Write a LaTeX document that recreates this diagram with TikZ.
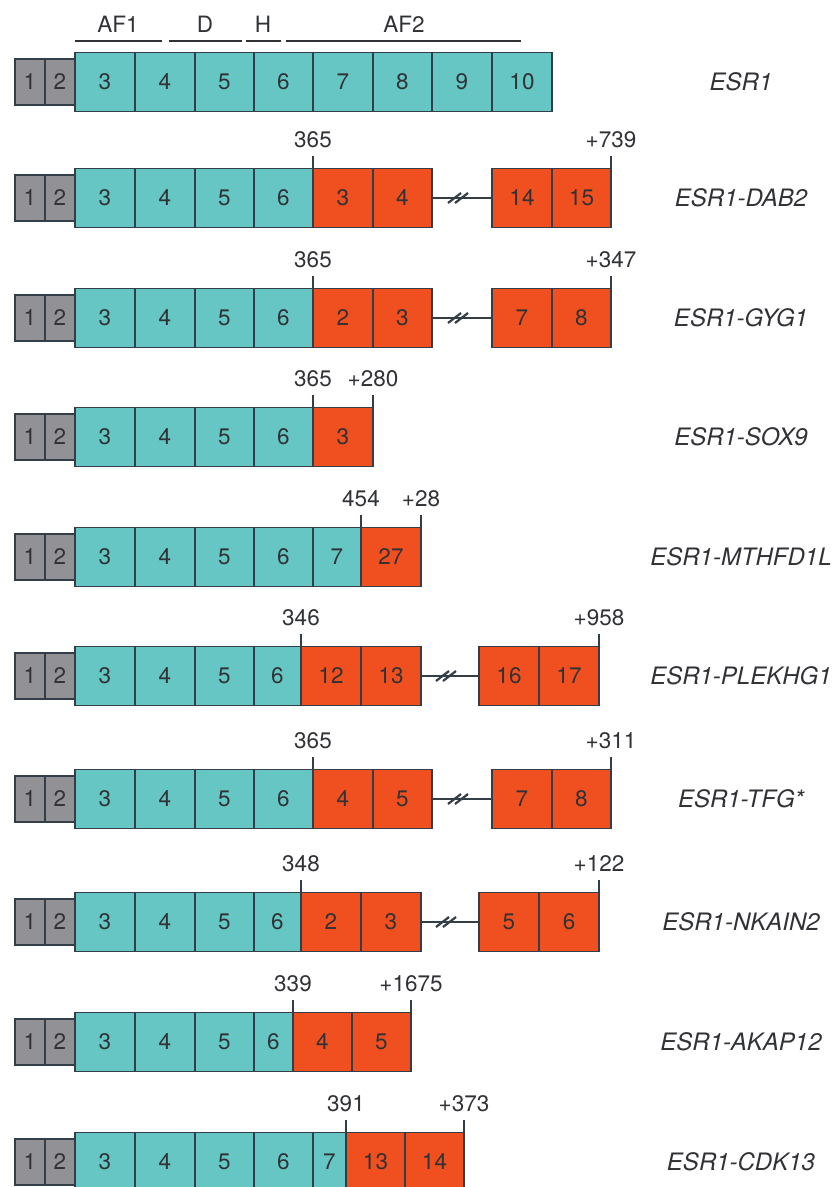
\documentclass[tikz,border=0pt]{standalone}
\usepackage{fontspec}
\setmainfont{TeX Gyre Heros}
\usetikzlibrary{calc}
\definecolor{tealf}{RGB}{102,198,196}
\definecolor{orgf}{RGB}{240,80,32}
\definecolor{grayf}{RGB}{146,146,150}
\definecolor{edge}{RGB}{52,62,72}
\definecolor{txt}{RGB}{48,50,54}
\tikzset{
  exon/.style={draw=edge, line width=1.8pt, inner sep=0pt, outer sep=0pt,
    minimum height=59pt, text=txt, anchor=center,
    font=\fontsize{22.5}{22.5}\selectfont},
  tealbox/.style={exon, fill=tealf},
  orgbox/.style={exon, fill=orgf},
  graybox/.style={exon, fill=grayf, minimum height=46pt},
  lbl/.style={text=txt, inner sep=0pt, font=\fontsize{22.5}{22.5}\selectfont},
  gene/.style={text=txt, inner sep=0pt, font=\fontsize{24}{24}\selectfont\itshape},
  conn/.style={draw=edge, line width=1.8pt},
  slash/.style={draw=edge, line width=2.2pt},
  tickline/.style={draw=edge, line width=1.8pt},
  hdr/.style={draw=txt, line width=1.8pt}
}
\newcommand\mkbox[6]{\node[#5, minimum width={(#3-#2)*1pt}] (#1) at ({(#2+#3)/2},#4) {#6};}
\newcommand\mkgray[2]{\mkbox{#1ga}{15}{45}{#2}{graybox}{1}\mkbox{#1gb}{45}{75}{#2}{graybox}{2}}
\newcommand\mkteal[2]{%
  \mkbox{#1t3}{75}{135}{#2}{tealbox}{3}%
  \mkbox{#1t4}{135}{195}{#2}{tealbox}{4}%
  \mkbox{#1t5}{195}{254}{#2}{tealbox}{5}}
\newcommand\mktick[3]{\draw[tickline] (#1) -- ++(0,-12.5) coordinate (#2t);
  \node[lbl] (#2) at ($(#2t)+(0,-16)$) {#3};}
\newcommand\mkbreak[3]{\draw[conn] (#1.east) -- coordinate[midway] (#3) (#2.west);
  \draw[slash] ($(#3)+(-14,5)$) -- ($(#3)+(-1,-5)$);
  \draw[slash] ($(#3)+(-7,5)$) -- ($(#3)+(6,-5)$);}
\begin{document}
\begin{tikzpicture}[x=1pt,y=-1pt]
\useasboundingbox[fill=white] (0,0) rectangle (835,1187);
% header
\node[lbl] (hAF1) at (118,24) {AF1};
\node[lbl] (hD) at (205,24) {D};
\node[lbl] (hH) at (263,24) {H};
\node[lbl] (hAF2) at (404,24) {AF2};
\draw[hdr] (75,41) -- (162,41);
\draw[hdr] (169,41) -- (242,41);
\draw[hdr] (246,41) -- (281,41);
\draw[hdr] (286,41) -- (521,41);
% row 1 ESR1
\mkgray{a}{82}
\mkteal{a}{82}
\mkbox{at6}{254}{313}{82}{tealbox}{6}
\mkbox{at7}{313}{373}{82}{tealbox}{7}
\mkbox{at8}{373}{432}{82}{tealbox}{8}
\mkbox{at9}{432}{492}{82}{tealbox}{9}
\mkbox{at10}{492}{552}{82}{tealbox}{10}
\node[gene] (ga) at (741,82) {ESR1};
% row 2 DAB2
\mkgray{b}{198}
\mkteal{b}{198}
\mkbox{bt6}{254}{313}{198}{tealbox}{6}
\mkbox{bo1}{313}{373}{198}{orgbox}{3}
\mkbox{bo2}{373}{432}{198}{orgbox}{4}
\mkbox{bo3}{492}{552}{198}{orgbox}{14}
\mkbox{bo4}{552}{611}{198}{orgbox}{15}
\mkbreak{bo2}{bo3}{bm}
\mktick{bo1.north west}{bl1}{365}
\mktick{bo4.north east}{bl2}{+739}
\node[gene] (gb) at (741,198) {ESR1-DAB2};
% row 3 GYG1
\mkgray{c}{318}
\mkteal{c}{318}
\mkbox{ct6}{254}{313}{318}{tealbox}{6}
\mkbox{co1}{313}{373}{318}{orgbox}{2}
\mkbox{co2}{373}{432}{318}{orgbox}{3}
\mkbox{co3}{492}{552}{318}{orgbox}{7}
\mkbox{co4}{552}{611}{318}{orgbox}{8}
\mkbreak{co2}{co3}{cm}
\mktick{co1.north west}{cl1}{365}
\mktick{co4.north east}{cl2}{+347}
\node[gene] (gc) at (741,318) {ESR1-GYG1};
% row 4 SOX9
\mkgray{d}{437}
\mkteal{d}{437}
\mkbox{dt6}{254}{313}{437}{tealbox}{6}
\mkbox{do1}{313}{373}{437}{orgbox}{3}
\mktick{do1.north west}{dl1}{365}
\mktick{do1.north east}{dl2}{+280}
\node[gene] (gd) at (741,437) {ESR1-SOX9};
% row 5 MTHFD1L
\mkgray{e}{557}
\mkteal{e}{557}
\mkbox{et6}{254}{313}{557}{tealbox}{6}
\mkbox{et7}{313}{361}{557}{tealbox}{7}
\mkbox{eo1}{361}{421}{557}{orgbox}{27}
\mktick{eo1.north west}{el1}{454}
\mktick{eo1.north east}{el2}{+28}
\node[gene] (ge) at (741,557) {ESR1-MTHFD1L};
% row 6 PLEKHG1
\mkgray{f}{676}
\mkteal{f}{676}
\mkbox{ft6}{254}{301}{676}{tealbox}{6}
\mkbox{fo1}{301}{361}{676}{orgbox}{12}
\mkbox{fo2}{361}{421}{676}{orgbox}{13}
\mkbox{fo3}{479}{539}{676}{orgbox}{16}
\mkbox{fo4}{539}{599}{676}{orgbox}{17}
\mkbreak{fo2}{fo3}{fm}
\mktick{fo1.north west}{fl1}{346}
\mktick{fo4.north east}{fl2}{+958}
\node[gene] (gf) at (741,676) {ESR1-PLEKHG1};
% row 7 TFG
\mkgray{g}{799}
\mkteal{g}{799}
\mkbox{gt6}{254}{313}{799}{tealbox}{6}
\mkbox{go1}{313}{373}{799}{orgbox}{4}
\mkbox{go2}{373}{432}{799}{orgbox}{5}
\mkbox{go3}{492}{552}{799}{orgbox}{7}
\mkbox{go4}{552}{611}{799}{orgbox}{8}
\mkbreak{go2}{go3}{gm}
\mktick{go1.north west}{gl1}{365}
\mktick{go4.north east}{gl2}{+311}
\node[gene] (gg) at (741,799) {ESR1-TFG*};
% row 8 NKAIN2
\mkgray{h}{922}
\mkteal{h}{922}
\mkbox{ht6}{254}{301}{922}{tealbox}{6}
\mkbox{ho1}{301}{361}{922}{orgbox}{2}
\mkbox{ho2}{361}{421}{922}{orgbox}{3}
\mkbox{ho3}{479}{539}{922}{orgbox}{5}
\mkbox{ho4}{539}{599}{922}{orgbox}{6}
\mkbreak{ho2}{ho3}{hm}
\mktick{ho1.north west}{hl1}{348}
\mktick{ho4.north east}{hl2}{+122}
\node[gene] (gh) at (741,922) {ESR1-NKAIN2};
% row 9 AKAP12
\mkgray{i}{1042}
\mkteal{i}{1042}
\mkbox{it6}{254}{293}{1042}{tealbox}{6}
\mkbox{io1}{293}{352}{1042}{orgbox}{4}
\mkbox{io2}{352}{411}{1042}{orgbox}{5}
\mktick{io1.north west}{il1}{339}
\mktick{io2.north east}{il2}{+1675}
\node[gene] (gi) at (741,1042) {ESR1-AKAP12};
% row 10 CDK13
\mkgray{j}{1162}
\mkteal{j}{1162}
\mkbox{jt6}{254}{313}{1162}{tealbox}{6}
\mkbox{jt7}{313}{346}{1162}{tealbox}{7}
\mkbox{jo1}{346}{405}{1162}{orgbox}{13}
\mkbox{jo2}{405}{464}{1162}{orgbox}{14}
\mktick{jo1.north west}{jl1}{391}
\mktick{jo2.north east}{jl2}{+373}
\node[gene] (gj) at (741,1162) {ESR1-CDK13};
\end{tikzpicture}
\end{document}
